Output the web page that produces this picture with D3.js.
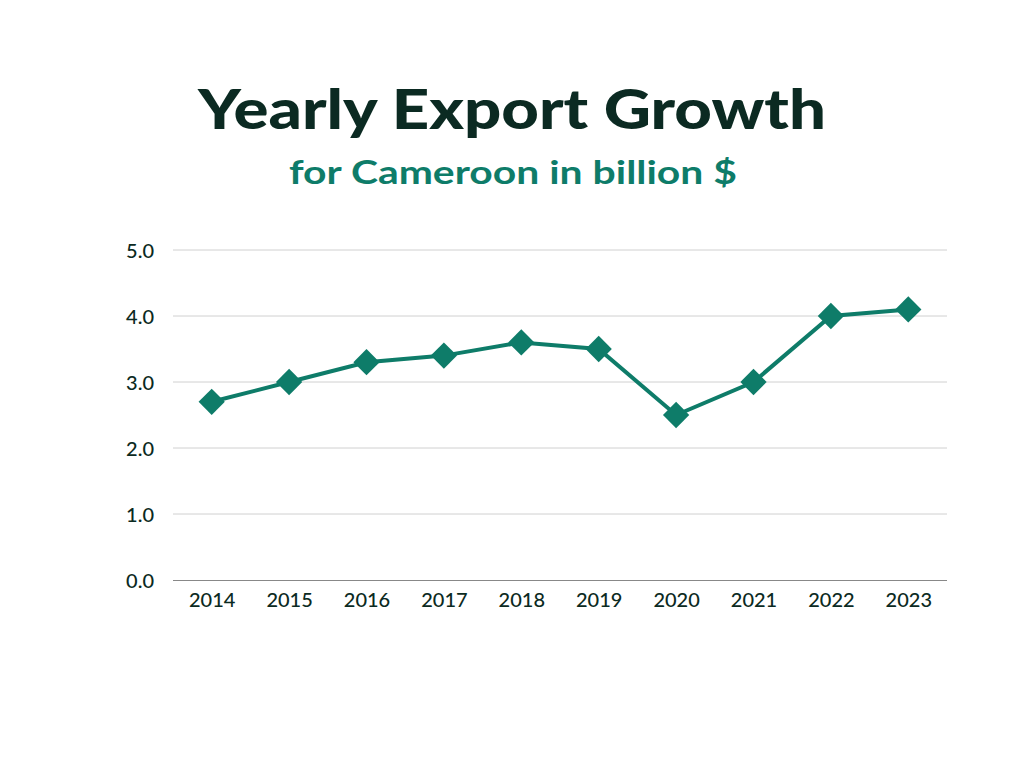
<!DOCTYPE html>
<html>
<head>
<meta charset="utf-8">
<script src="https://cdn.jsdelivr.net/npm/d3@7"></script>
<style>
  body { margin: 0; background: #fff; }
  text { font-family: "Lato", "Open Sans", sans-serif; }
</style>
</head>
<body>
<svg id="chart" width="1024" height="768"></svg>
<script>
var years = ['2014', '2015', '2016', '2017', '2018', '2019', '2020', '2021', '2022', '2023'];
var exports = [2.7, 3.0, 3.3, 3.4, 3.6, 3.5, 2.5, 3.0, 4.0, 4.1];
var yTicks = [0, 1, 2, 3, 4, 5];

var svg = d3.select('#chart');
var green = '#0e7c69';
var dark = '#0b2a22';

// titles
svg.append('text').attr('x', 512).attr('y', 129).attr('text-anchor', 'middle')
    .style('font-size', '56px').style('font-weight', 900).attr('fill', dark)
    .attr('textLength', 628).attr('lengthAdjust', 'spacingAndGlyphs')
    .text('Yearly Export Growth');
svg.append('text').attr('x', 513).attr('y', 184).attr('text-anchor', 'middle')
    .style('font-size', '32px').style('font-weight', 700).attr('fill', green)
    .attr('textLength', 448).attr('lengthAdjust', 'spacingAndGlyphs')
    .text('for Cameroon in billion $');

var x = d3.scalePoint().domain(years).range([173, 947]).padding(0.5);
var y = d3.scaleLinear().domain([0, 5]).range([580, 250]);

// gridlines
svg.selectAll('.grid').data(yTicks.slice(1)).enter().append('line')
    .attr('x1', 173).attr('x2', 947)
    .attr('y1', function(d){ return y(d); }).attr('y2', function(d){ return y(d); })
    .attr('stroke', '#d0d0d0').attr('stroke-width', 1);

// y axis labels
var yAxis = svg.append('g').attr('transform', 'translate(157,0)')
    .call(d3.axisLeft(y).tickValues(yTicks).tickFormat(d3.format('.1f')).tickSize(0));
yAxis.select('.domain').remove();
yAxis.selectAll('text').style('font-size', '20px').style('font-weight', 500)
    .attr('fill', dark).attr('dy', '0.35em').attr('text-anchor', 'end');

// x axis
var xAxis = svg.append('g').attr('transform', 'translate(0,580)')
    .call(d3.axisBottom(x).tickSize(0).tickPadding(13));
xAxis.select('.domain').attr('stroke', '#888').attr('d', 'M173,0.5H947');
xAxis.selectAll('text').style('font-size', '20px').style('font-weight', 500).attr('fill', dark);

// line
var line = d3.line().x(function(d, i){ return x(years[i]); }).y(function(d){ return y(d); });
svg.append('path').datum(exports).attr('d', line)
    .attr('fill', 'none').attr('stroke', green).attr('stroke-width', 4);

// diamonds
svg.selectAll('.pt').data(exports).enter().append('path')
    .attr('d', d3.symbol().type(d3.symbolDiamond2).size(440))
    .attr('transform', function(d, i){ return 'translate(' + x(years[i]) + ',' + y(d) + ')'; })
    .attr('fill', green);
</script>
</body>
</html>
